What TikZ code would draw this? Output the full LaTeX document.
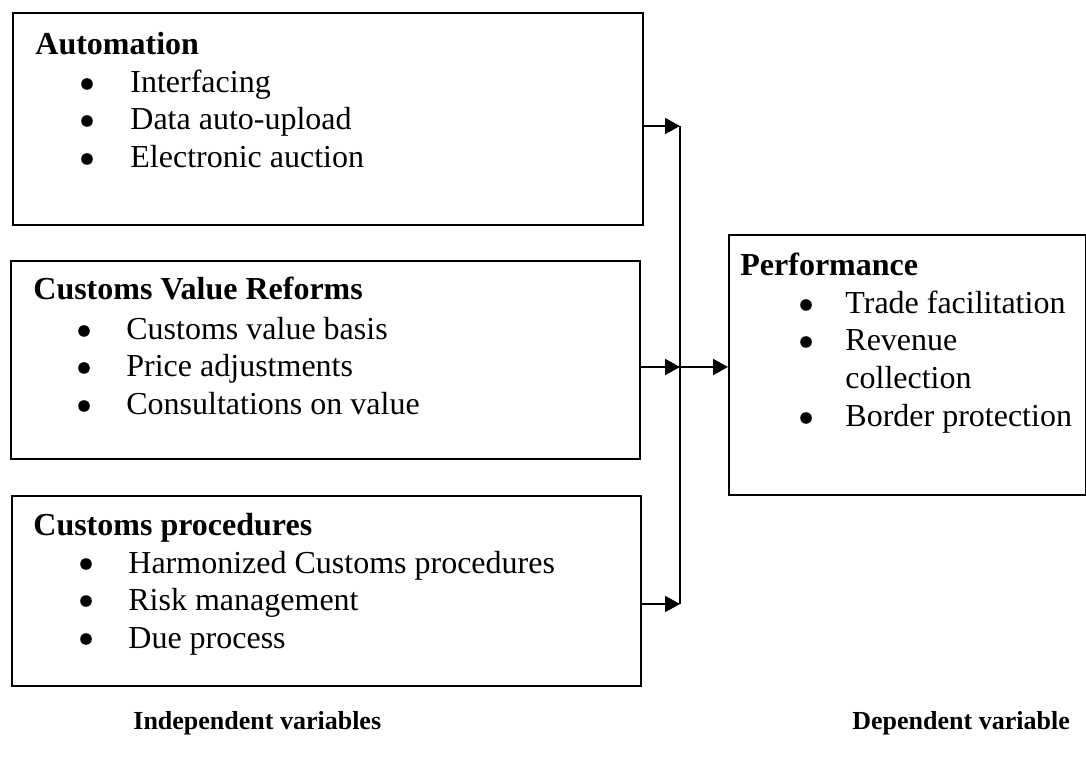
\documentclass[tikz,border=0pt]{standalone}
\usepackage{fontspec}
\setmainfont{Liberation Serif}
\usetikzlibrary{arrows.meta}
\begin{document}
\begin{tikzpicture}[x=0.5pt,y=-0.5pt,
  box/.style={draw,line width=1pt,inner sep=0pt,anchor=north west},
  txt/.style={anchor=base west,inner sep=0pt,font=\fontsize{16}{19}\selectfont},
  hd/.style={txt,font=\fontsize{16}{19}\selectfont\bfseries},
  lab/.style={txt,font=\fontsize{13}{15}\selectfont\bfseries},
  bul/.style={circle,fill,inner sep=0pt,minimum size=5.8pt},
  conn/.style={line width=1pt},
  arr/.style={line width=1pt,-{Triangle[length=7.5pt,width=8pt]}}]
\useasboundingbox (0,0) rectangle (1086,758);
% boxes
\node[box,minimum width=315pt,minimum height=106pt] (b1) at (12,12) {};
\node[box,minimum width=314.5pt,minimum height=99pt] (b2) at (10,260) {};
\node[box,minimum width=314.5pt,minimum height=95pt] (b3) at (11,495) {};
\node[box,minimum width=178.5pt,minimum height=130pt] (pf) at (728,234) {};
% box 1 text
\node[hd] (t1) at (35,55) {Automation};
\node[bul] (u11) at (87,84) {};
\node[txt] (t11) at (130,93) {Interfacing};
\node[bul] (u12) at (87,121) {};
\node[txt] (t12) at (130,130) {Data auto-upload};
\node[bul] (u13) at (87,159) {};
\node[txt] (t13) at (130,168) {Electronic auction};
% box 2 text
\node[hd] (t2) at (33,300) {Customs Value Reforms};
\node[bul] (u21) at (84,331) {};
\node[txt] (t21) at (126,340) {Customs value basis};
\node[bul] (u22) at (84,368) {};
\node[txt] (t22) at (126,377) {Price adjustments};
\node[bul] (u23) at (84,406) {};
\node[txt] (t23) at (126,415) {Consultations on value};
% box 3 text
\node[hd] (t3) at (33,535) {Customs procedures};
\node[bul] (u31) at (86,564) {};
\node[txt] (t31) at (128,573) {Harmonized Customs procedures};
\node[bul] (u32) at (86,601) {};
\node[txt] (t32) at (128,610) {Risk management};
\node[bul] (u33) at (86,639) {};
\node[txt] (t33) at (128,648) {Due process};
% performance text
\node[hd] (t4) at (740,276) {Performance};
\node[bul] (u41) at (806,305) {};
\node[txt] (t41) at (845,314) {Trade facilitation};
\node[bul] (u42) at (806,342) {};
\node[txt] (t42) at (845,351) {Revenue};
\node[txt] (t42b) at (845,389) {collection};
\node[bul] (u43) at (806,418) {};
\node[txt] (t43) at (845,427) {Border protection};
% labels
\node[lab] (l1) at (133,729) {Independent variables};
\node[lab] (l2) at (852,729) {Dependent variable};
% connectors
\coordinate (j1) at (680,126);
\coordinate (j2) at (680,367);
\coordinate (j3) at (680,604);
\draw[conn] (j1) -- (j3);
\draw[arr] (b1.east |- j1) -- (j1);
\draw[arr] (b2.east |- j2) -- (j2);
\draw[arr] (b3.east |- j3) -- (j3);
\draw[arr] (j2) -- (pf.west |- j2);
\end{tikzpicture}
\end{document}
